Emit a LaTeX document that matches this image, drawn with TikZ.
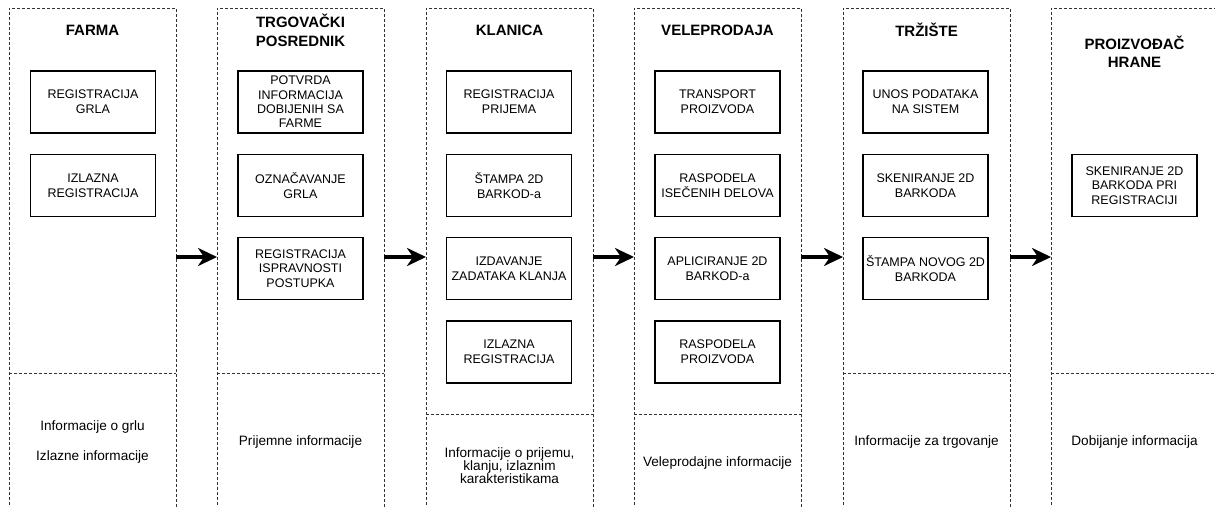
\documentclass[tikz,border=0pt]{standalone}
\usepackage{fontspec}
\setmainfont{Liberation Sans}
\usetikzlibrary{arrows.meta}

\begin{document}
\begin{tikzpicture}[x=1pt,y=-1pt,
  lane/.style={draw=black!80, line width=0.8pt, dash pattern=on 3pt off 2pt},
  taskbox/.style={draw=black, line width=1.3pt, minimum width=125pt, minimum height=62pt,
    inner sep=0pt, align=center, text=black, font=\fontsize{12.5}{14.8}\selectfont},
  lanetitle/.style={align=center, font=\bfseries\fontsize{15}{18.5}\selectfont},
  infotext/.style={align=center, text=black, font=\fontsize{13.6}{12.8}\selectfont},
  flow/.style={line width=3.6pt, -{Stealth[length=19pt,width=18pt,inset=6pt]}}
]
\useasboundingbox (0,0) rectangle (1215,506);
\clip (0,0) rectangle (1215,506);

% swimlanes: left edge, divider height
\foreach \name/\lx/\dy in {c1/9/373, c2/217/373, c3/426/414, c4/634/414, c5/843/373, c6/1051/373} {
  \draw[lane] (\lx,520) -- (\lx,8) -- (\lx+167,8) -- (\lx+167,520);
  \draw[lane] (\lx,\dy) -- (\lx+167,\dy);
  \coordinate (\name-l) at (\lx,257);
  \coordinate (\name-r) at (\lx+167,257);
}

% lane titles
\node[lanetitle] (t1) at (92.5,30) {FARMA};
\node[lanetitle] (t2) at (300.5,30.5) {TRGOVAČKI\\POSREDNIK};
\node[lanetitle] (t3) at (509.5,30) {KLANICA};
\node[lanetitle] (t4) at (717.5,30) {VELEPRODAJA};
\node[lanetitle] (t5) at (926.5,30) {TRŽIŠTE};
\node[lanetitle] (t6) at (1134.5,52) {PROIZVOĐAČ\\HRANE};

% FARMA
\node[taskbox] (f1) at (93,102) {REGISTRACIJA\\GRLA};
\node[taskbox] (f2) at (93,185.5) {IZLAZNA\\REGISTRACIJA};

% TRGOVAČKI POSREDNIK
\node[taskbox, font=\fontsize{12.5}{14.4}\selectfont] (p1) at (300.5,102) {POTVRDA\\INFORMACIJA\\DOBIJENIH SA\\FARME};
\node[taskbox] (p2) at (300.5,185.5) {OZNAČAVANJE\\GRLA};
\node[taskbox] (p3) at (300.5,268.5) {REGISTRACIJA\\ISPRAVNOSTI\\POSTUPKA};

% KLANICA
\node[taskbox] (k1) at (509,102) {REGISTRACIJA\\PRIJEMA};
\node[taskbox] (k2) at (509,185.5) {ŠTAMPA 2D\\BARKOD-a};
\node[taskbox] (k3) at (509,268.5) {IZDAVANJE\\ZADATAKA KLANJA};
\node[taskbox] (k4) at (509,352) {IZLAZNA\\REGISTRACIJA};

% VELEPRODAJA
\node[taskbox] (v1) at (717.5,102) {TRANSPORT\\PROIZVODA};
\node[taskbox] (v2) at (717.5,185.5) {RASPODELA\\ISEČENIH DELOVA};
\node[taskbox] (v3) at (717.5,268.5) {APLICIRANJE 2D\\BARKOD-a};
\node[taskbox] (v4) at (717.5,352) {RASPODELA\\PROIZVODA};

% TRŽIŠTE
\node[taskbox] (m1) at (925.5,102) {UNOS PODATAKA\\NA SISTEM};
\node[taskbox] (m2) at (925.5,185.5) {SKENIRANJE 2D\\BARKODA};
\node[taskbox] (m3) at (925.5,268.5) {ŠTAMPA NOVOG 2D\\BARKODA};

% PROIZVOĐAČ HRANE
\node[taskbox] (h1) at (1134.5,185.5) {SKENIRANJE 2D\\BARKODA PRI\\REGISTRACIJI};

% information exchanged in each stage
\node[infotext] (i1a) at (92.5,427) {Informacije o grlu};
\node[infotext] (i1b) at (92.5,457) {Izlazne informacije};
\node[infotext] (i2) at (300.5,442) {Prijemne informacije};
\node[infotext] (i3) at (509.5,465.5) {Informacije o prijemu,\\klanju, izlaznim\\karakteristikama};
\node[infotext] (i4) at (717.5,463) {Veleprodajne informacije};
\node[infotext] (i5) at (926.5,442) {Informacije za trgovanje};
\node[infotext] (i6) at (1134.5,442) {Dobijanje informacija};

% flow between stages
\draw[flow] (c1-r) -- (c2-l);
\draw[flow] (c2-r) -- (c3-l);
\draw[flow] (c3-r) -- (c4-l);
\draw[flow] (c4-r) -- (c5-l);
\draw[flow] (c5-r) -- (c6-l);
\end{tikzpicture}
\end{document}
